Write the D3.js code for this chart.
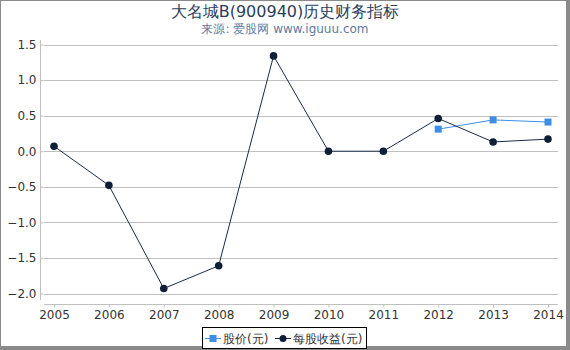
<!DOCTYPE html>
<html><head><meta charset="utf-8">
<script src="https://cdn.jsdelivr.net/npm/d3@7"></script>
<style>body{margin:0;background:#fff}svg{display:block;font-family:"DejaVu Sans",sans-serif}</style>
</head><body><svg id="c" width="570" height="350"></svg>
<script>
const years = ["2005","2006","2007","2008","2009","2010","2011","2012","2013","2014"];
const eps = [0.07,-0.48,-1.93,-1.61,1.34,0.0,0.0,0.46,0.13,0.17];
const priceYears = ["2012","2013","2014"];
const price = [0.31,0.44,0.41];
const yTicks = [1.5,1.0,0.5,0.0,-0.5,-1.0,-1.5,-2.0];
const title = "大名城B(900940)历史财务指标";
const subtitle = "来源: 爱股网 www.iguuu.com";
const legendNames = ["股价(元)","每股收益(元)"];

const svg = d3.select("#c");
// frame + shadow
svg.append("rect").attr("x",567).attr("y",0).attr("width",3).attr("height",350).attr("fill","#8a8a8a");
svg.append("rect").attr("x",0).attr("y",347).attr("width",570).attr("height",3).attr("fill","#8a8a8a");
svg.append("rect").attr("x",0.5).attr("y",0.5).attr("width",566).attr("height",346).attr("fill","none").attr("stroke","#8a8a8a");

const x = d3.scalePoint().domain(years).range([54,548]);
const y = d3.scaleLinear().domain([-2,1.5]).range([293.5,44.5]);

// grid
svg.append("g").selectAll("line").data(yTicks).join("line")
  .attr("x1",44).attr("x2",558).attr("y1",d=>Math.round(y(d))+0.5).attr("y2",d=>Math.round(y(d))+0.5)
  .attr("stroke","#c0c0c0").attr("stroke-width",1);

// y axis
const ya = svg.append("g").attr("transform","translate(40.5,0)")
  .call(d3.axisLeft(y).tickValues(yTicks).tickFormat(d3.format(".1f")).tickSize(-3).tickPadding(6));
ya.select(".domain").attr("stroke","#c0c0c0").attr("d","M0,40V300");
ya.selectAll(".tick line").attr("stroke","#c0c0c0");
ya.selectAll("text").attr("fill","#333").attr("font-size",12).attr("font-family","DejaVu Sans").attr("x",-4);

// x axis
const xa = svg.append("g").attr("transform","translate(0,304.5)")
  .call(d3.axisBottom(x).tickSize(3).tickPadding(3));
xa.select(".domain").attr("stroke","#c0c0c0").attr("d","M44,0H558");
xa.selectAll(".tick line").attr("stroke","#c0c0c0");
xa.selectAll("text").attr("fill","#333").attr("font-size",12).attr("font-family","DejaVu Sans");

// lines
const epsData = years.map((yr,i)=>({yr,v:eps[i]}));
const priceData = priceYears.map((yr,i)=>({yr,v:price[i]}));
const line = d3.line().x(d=>x(d.yr)).y(d=>y(d.v));
svg.append("path").datum(priceData).attr("d",line).attr("fill","none").attr("stroke","#3c8ee6").attr("stroke-width",1);
svg.append("path").datum(epsData).attr("d",line).attr("fill","none").attr("stroke","#1a2c48").attr("stroke-width",1);
svg.append("g").selectAll("rect").data(priceData).join("rect")
  .attr("x",d=>x(d.yr)-3.5).attr("y",d=>y(d.v)-3.5).attr("width",7).attr("height",7).attr("fill","#3c8ee6");
svg.append("g").selectAll("circle").data(epsData).join("circle")
  .attr("cx",d=>x(d.yr)).attr("cy",d=>y(d.v)).attr("r",3.8).attr("fill","#0f1f38");

// titles
svg.append("text").attr("x",285).attr("y",17).attr("text-anchor","middle").attr("font-size",16)
  .attr("fill","#2c3e5a").text(title);
svg.append("text").attr("x",285).attr("y",33).attr("text-anchor","middle").attr("font-size",12)
  .attr("fill","#5b7ba3").text(subtitle);

// legend
const lg = svg.append("g");
lg.append("rect").attr("x",202.5).attr("y",327.5).attr("width",164).attr("height",21).attr("fill","#fff").attr("stroke","#000");
lg.append("line").attr("x1",205).attr("x2",221).attr("y1",338.5).attr("y2",338.5).attr("stroke","#3c8ee6");
lg.append("rect").attr("x",209.5).attr("y",335).attr("width",7).attr("height",7).attr("fill","#3c8ee6");
lg.append("text").attr("x",223).attr("y",343).attr("font-size",12).attr("fill","#333").text(legendNames[0]);
lg.append("line").attr("x1",275).attr("x2",291).attr("y1",338.5).attr("y2",338.5).attr("stroke","#1a2c48");
lg.append("circle").attr("cx",283).attr("cy",338.5).attr("r",3.5).attr("fill","#0f1f38");
lg.append("text").attr("x",293).attr("y",343).attr("font-size",12).attr("fill","#333").text(legendNames[1]);
</script></body></html>
